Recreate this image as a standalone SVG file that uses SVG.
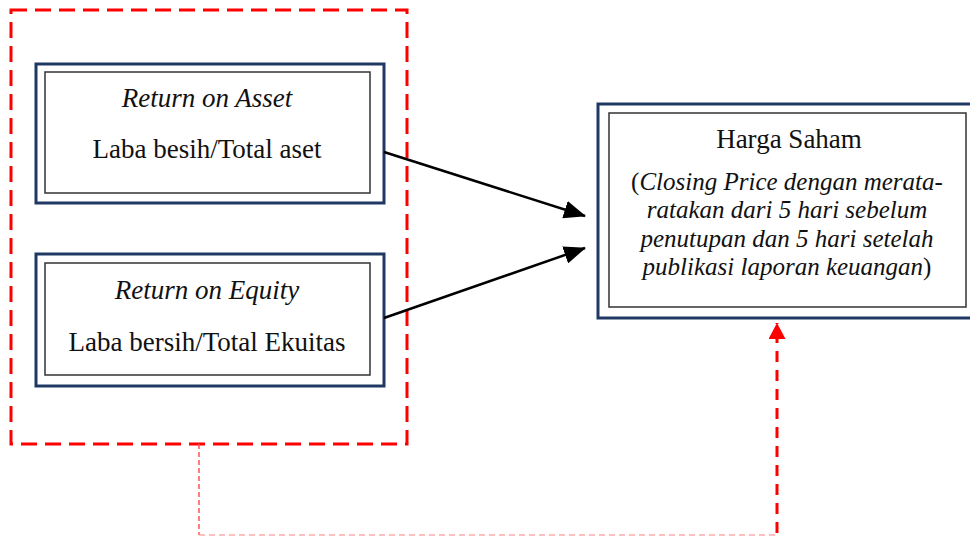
<svg xmlns="http://www.w3.org/2000/svg" width="970" height="537" viewBox="0 0 970 537">
<style>
.outer{fill:#fff;stroke:#1f3864;stroke-width:3}
.inner{fill:none;stroke:#333;stroke-width:1.5}
text{font-family:"Liberation Serif","Times New Roman",serif;fill:#111;text-anchor:middle}
.t{font-size:27px}
.i{font-style:italic}
.s{font-size:25px}
.conn{stroke:#000;stroke-width:2.5;fill:none}
</style>
<defs>
<marker id="ahb" markerWidth="22" markerHeight="18" refX="21" refY="9" orient="auto" markerUnits="userSpaceOnUse" viewBox="0 0 22 18">
<path d="M0,0 L22,9 L0,18 z" fill="#000"/>
</marker>
<marker id="ahr" markerWidth="16" markerHeight="17" refX="16" refY="8.5" orient="auto" markerUnits="userSpaceOnUse" viewBox="0 0 16 17">
<path d="M0,0 L16,8.5 L0,17 z" fill="#ff0000"/>
</marker>
</defs>
<g id="group-box">
<rect x="11" y="10" width="396" height="434" fill="none" stroke="#ff0000" stroke-width="3" stroke-dasharray="16 8"/>
</g>
<g id="roa">
<rect class="outer" x="36" y="64" width="348" height="139"/>
<rect class="inner" x="45" y="72" width="325" height="121"/>
<text class="t i" x="207" y="107">Return on Asset</text>
<text class="t" x="207" y="158">Laba besih/Total aset</text>
</g>
<g id="roe">
<rect class="outer" x="36" y="254" width="348" height="132"/>
<rect class="inner" x="45" y="263" width="325" height="112"/>
<text class="t i" x="207" y="299">Return on Equity</text>
<text class="t" x="207" y="351">Laba bersih/Total Ekuitas</text>
</g>
<g id="harga">
<rect class="outer" x="598" y="104" width="376" height="214"/>
<rect class="inner" x="609" y="113" width="357" height="194"/>
<text class="t" x="789" y="148">Harga Saham</text>
<text class="s" x="787" y="190">(<tspan class="i">Closing Price dengan merata-</tspan></text>
<text class="s i" x="787" y="218">ratakan dari 5 hari sebelum</text>
<text class="s i" x="787" y="247">penutupan dan 5 hari setelah</text>
<text class="s" x="787" y="275"><tspan class="i">publikasi laporan keuangan</tspan>)</text>
</g>
<g id="connectors">
<line class="conn" x1="384" y1="152" x2="585" y2="216" marker-end="url(#ahb)"/>
<line class="conn" x1="384" y1="318" x2="585" y2="248" marker-end="url(#ahb)"/>
<line x1="199" y1="444" x2="199" y2="535" stroke="#ff5555" stroke-width="1.5" stroke-dasharray="5 3"/>
<line x1="199" y1="535" x2="775" y2="535" stroke="#ffaaaa" stroke-width="1.5" stroke-dasharray="6 4"/>
<line x1="777" y1="533" x2="777" y2="323" stroke="#ff0000" stroke-width="3" stroke-dasharray="11 8" marker-end="url(#ahr)"/>
</g>
</svg>
